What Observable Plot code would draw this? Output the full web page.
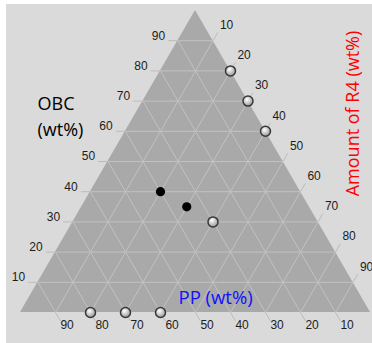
<!DOCTYPE html>
<html><head><meta charset="utf-8">
<script src="https://cdn.jsdelivr.net/npm/d3@7"></script>
<script src="https://cdn.jsdelivr.net/npm/@observablehq/plot@0.6"></script>
<style>
html,body{margin:0;padding:0;background:#fff;}
#chart{position:absolute;left:6px;top:4px;}
</style></head><body><div id="chart"></div>
<script>
// Data (wt%)
const PP  = [0, 0, 0, 40, 35, 30, 80, 70, 60];
const OBC = [80, 70, 60, 40, 35, 30, 0, 0, 0];
const R4  = [20, 30, 40, 20, 30, 40, 20, 30, 40];
const KIND = ["open","open","open","filled","filled","open","open","open","open"];
const TICKS = [10, 20, 30, 40, 50, 60, 70, 80, 90];

const H = Math.sqrt(3) / 2;
// ternary (pp, obc, r4 fractions) -> cartesian
const cx = (p, o, r) => r + o / 2;
const cy = (p, o, r) => o * H;
const D = 0.028;

const points = PP.map((p, i) => {
  const s = p + OBC[i] + R4[i];
  const a = p / s, o = OBC[i] / s, r = R4[i] / s;
  return {x: cx(a, o, r), y: cy(a, o, r), kind: KIND[i]};
});

const corners = [[1,0,0],[0,1,0],[0,0,1]].map(([a,o,r]) => ({x: cx(a,o,r), y: cy(a,o,r)}));
corners.sort((u, v) => u.x - v.x);

const seg = (A, B, extra) => ({x1: cx(...A), y1: cy(...A), x2: cx(...B), y2: cy(...B), ...extra});
const grid = [], ticksL = [], ticksB = [], ticksR = [];
for (const t of TICKS) {
  const k = t / 100;
  grid.push(seg([1-k, k, 0], [0, k, 1-k]));
  grid.push(seg([k, 1-k, 0], [k, 0, 1-k]));
  grid.push(seg([0, 1-k, k], [1-k, 0, k]));
  ticksL.push(seg([1-k, k, 0], [1-k+D, k, -D], {label: t}));
  ticksB.push(seg([k, 0, 1-k], [k, -D, 1-k+D], {label: t}));
  ticksR.push(seg([0, 1-k, k], [-D, 1-k+D, k], {label: t}));
}
const allTicks = [...ticksL, ...ticksB, ...ticksR];

const lineColor = "#c2c2c2";
const labelColor = "#1c1c1c";
const titleFont = "Open Sans, Noto Sans, sans-serif";

const svg = Plot.plot({
  width: 366,
  height: 339,
  margin: 0,
  x: {domain: [0, 1], range: [14, 364], axis: null},
  y: {domain: [0, H], range: [308, 6], axis: null},
  style: {background: "#dadada", fontFamily: "Liberation Sans, Arial, sans-serif", fontSize: "12px", overflow: "visible"},
  marks: [
    Plot.areaY(corners, {x: "x", y: "y", fill: "#a9a9a9", curve: "linear"}),
    Plot.link(grid, {x1: "x1", y1: "y1", x2: "x2", y2: "y2", stroke: lineColor, strokeWidth: 1}),
    Plot.link(allTicks, {x1: "x1", y1: "y1", x2: "x2", y2: "y2", stroke: "#bcbcbc", strokeWidth: 1}),
    Plot.text(ticksL, {x: "x2", y: "y2", text: "label", textAnchor: "end", dx: -3, dy: -5, fill: labelColor}),
    Plot.text(ticksB, {x: "x2", y: "y2", text: "label", textAnchor: "start", dx: 0, dy: 4.5, fill: labelColor}),
    Plot.text(ticksR, {x: "x2", y: "y2", text: "label", textAnchor: "start", dx: 2, dy: -7, fill: labelColor}),
    Plot.dot(points.filter(d => d.kind === "open"), {x: "x", y: "y", r: 5, fill: "url(#openGrad)", stroke: "#383838", strokeWidth: 1.5}),
    Plot.dot(points.filter(d => d.kind === "filled"), {x: "x", y: "y", r: 4.6, fill: "#000"}),
    Plot.text(["OBC\n(wt%)"], {frameAnchor: "top-left", dx: 31, dy: 88, text: d => d, textAnchor: "start", lineAnchor: "top", lineHeight: 1.4, fontSize: 18, fontFamily: titleFont, fill: "#000"}),
    Plot.text(["PP (wt%)"], {frameAnchor: "top-left", dx: 172, dy: 286, text: d => d, textAnchor: "start", lineAnchor: "top", fontSize: 18.5, fontFamily: titleFont, fill: "#1010ff"}),
    Plot.text(["Amount of R4 (wt%)"], {frameAnchor: "top-left", dx: 347, dy: 109, text: d => d, rotate: -90, textAnchor: "middle", lineAnchor: "middle", fontSize: 18, fontFamily: titleFont, fill: "#ff0000"})
  ]
});

const defs = d3.select(svg).insert("defs", ":first-child");
const g = defs.append("radialGradient").attr("id", "openGrad").attr("cx", "0.4").attr("cy", "0.35").attr("r", "0.65");
g.append("stop").attr("offset", "0").attr("stop-color", "#ffffff");
g.append("stop").attr("offset", "1").attr("stop-color", "#9a9a9a");

document.getElementById("chart").appendChild(svg);
</script></body></html>
